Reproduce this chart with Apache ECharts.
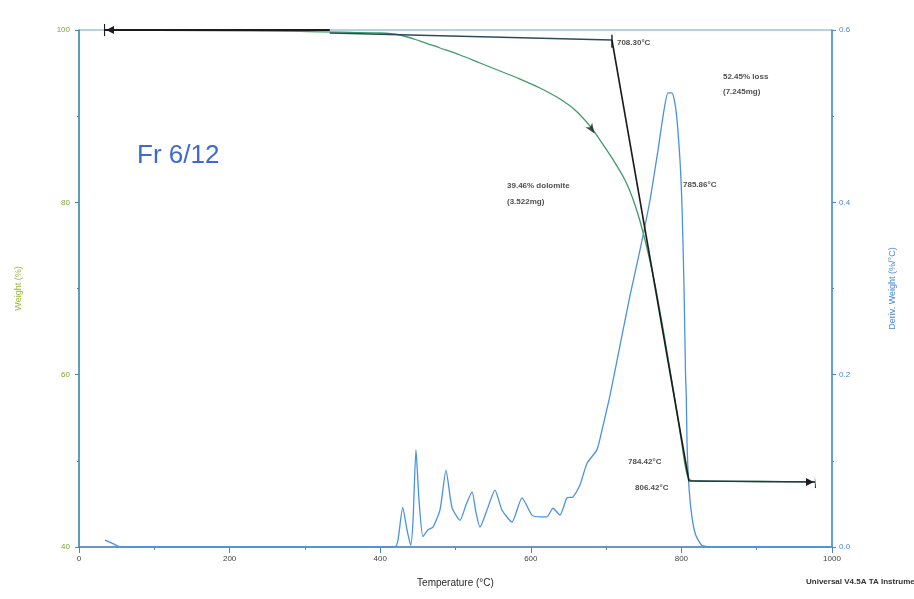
<!DOCTYPE html>
<html>
<head>
<meta charset="utf-8">
<title>Fr 6/12 TGA</title>
<script src="https://cdn.jsdelivr.net/npm/echarts@6/dist/echarts.min.js"></script>
<style>
  html, body { margin: 0; padding: 0; background: #ffffff; }
  #chart { width: 914px; height: 599px; }
</style>
</head>
<body>
<div id="chart"></div>
<script>
// Weight curve (%), temperature in °C
const tempW = [34.5, 160.7, 293.5, 399.7, 426.3, 452.9, 479.4, 506.0, 532.5, 559.1, 585.7, 612.2, 638.8, 658.7, 678.6, 691.9, 707.8, 725.1, 738.4, 751.7, 765.0, 778.2, 791.5, 800.8, 806.1, 811.4, 824.7, 904.4, 977.4];
const weightPct = [100.0, 99.94, 99.83, 99.65, 99.42, 98.72, 97.91, 97.10, 96.17, 95.24, 94.31, 93.27, 91.99, 90.72, 88.86, 87.23, 85.15, 82.59, 79.69, 75.63, 70.41, 64.02, 57.06, 51.84, 48.94, 47.78, 47.66, 47.60, 47.55];

// Derivative weight curve (%/°C)
const tempD = [34.5, 45.0, 55.0, 419.6, 423.6, 429.9, 435.6, 440.5, 443.6, 447.5, 451.5, 456.8, 463.5, 470.1, 479.4, 487.4, 495.3, 506.0, 514.0, 522.0, 527.0, 532.5, 541.8, 552.4, 561.7, 575.0, 588.3, 601.6, 612.2, 621.5, 629.5, 638.8, 648.0, 656.0, 665.3, 674.6, 687.9, 694.6, 705.2, 718.5, 731.8, 745.1, 758.4, 769.0, 776.9, 782.2, 787.5, 792.8, 798.1, 801.0, 803.5, 805.5, 806.5, 807.5, 810.0, 814.0, 819.0, 827.0, 838.0, 997.0];
const derivPct = [0.008, 0.004, 0.0, 0.0, 0.008, 0.046, 0.020, 0.002, 0.031, 0.113, 0.055, 0.012, 0.020, 0.023, 0.043, 0.089, 0.046, 0.031, 0.049, 0.064, 0.041, 0.023, 0.043, 0.066, 0.043, 0.029, 0.057, 0.037, 0.035, 0.035, 0.045, 0.037, 0.057, 0.058, 0.072, 0.097, 0.113, 0.136, 0.176, 0.234, 0.292, 0.345, 0.403, 0.461, 0.507, 0.527, 0.527, 0.507, 0.449, 0.390, 0.300, 0.200, 0.175, 0.120, 0.070, 0.035, 0.014, 0.002, 0.0, 0.0];

// Step analysis construction lines (temperature, weight %)
const stepStartT = [34.5, 333.0];
const stepStartW = [100.0, 100.0];
const baselineT = [333.0, 707.8];
const baselineW = [99.65, 98.84];
const cursorT = [707.8, 707.8];
const cursorW = [99.45, 97.95];
const tangentT = [707.8, 810.0];
const tangentW = [98.84, 47.66];
const plateauT = [810.0, 977.4];
const plateauW = [47.66, 47.55];

// Annotation texts anchored in data space (temperature, weight %)
const noteT = [714.4, 855.2, 855.2, 802.1, 568.4, 568.4, 729.1, 738.4];
const noteW = [98.49, 94.55, 92.80, 82.01, 81.90, 80.04, 49.87, 46.85];
const noteText = ['708.30°C', '52.45% loss', '(7.245mg)', '785.86°C', '39.46% dolomite', '(3.522mg)', '784.42°C', '806.42°C'];

// Axis ticks
const xTicks = [0, 200, 400, 600, 800, 1000];
const weightTicks = [40, 60, 80, 100];
const derivTicks = [0.0, 0.2, 0.4, 0.6];

const zip = (a, b) => a.map((v, i) => [v, b[i]]);

const FONT = '"Liberation Sans", Arial, sans-serif';
const INK = '#1c1c1c';

const startMarker = 'path://M0,0 L1,0 L1,12 L0,12 Z M2,6 L9,2 L9,10 Z';
const endMarker = 'path://M0,2 L7,6 L0,10 Z M8,0 L9,12 L8,12 Z';

const chart = echarts.init(document.getElementById('chart'), null, { renderer: 'canvas' });

function stepLine(xs, ys, extra) {
  return Object.assign({
    type: 'line',
    yAxisIndex: 0,
    data: zip(xs, ys),
    symbol: 'none',
    silent: true,
    z: 5,
    lineStyle: { color: INK, width: 1.4 }
  }, extra || {});
}

const option = {
  backgroundColor: '#ffffff',
  animation: false,
  textStyle: { fontFamily: FONT },
  grid: {
    left: 79, right: 82, top: 30, bottom: 52,
    show: true, borderColor: '#6aa2cc', borderWidth: 1, backgroundColor: 'transparent'
  },
  xAxis: {
    type: 'value',
    min: xTicks[0],
    max: xTicks[xTicks.length - 1],
    interval: xTicks[1] - xTicks[0],
    name: 'Temperature (°C)',
    nameLocation: 'middle',
    nameGap: 31,
    nameTextStyle: { color: '#2a2a2a', fontSize: 10, fontFamily: FONT },
    axisLine: { lineStyle: { color: '#4f86b0', width: 1.5 } },
    axisTick: { length: 6, lineStyle: { color: '#4f86b0' } },
    minorTick: { show: true, splitNumber: 2, length: 3, lineStyle: { color: '#4f86b0' } },
    axisLabel: { color: '#444', fontSize: 8, margin: 8, formatter: v => String(v) },
    splitLine: { show: false }
  },
  yAxis: [
    {
      type: 'value',
      position: 'left',
      min: weightTicks[0],
      max: weightTicks[weightTicks.length - 1],
      interval: weightTicks[1] - weightTicks[0],
      name: 'Weight (%)',
      nameLocation: 'middle',
      nameRotate: 90,
      nameGap: 56,
      nameTextStyle: { color: '#98b83a', fontSize: 9, fontFamily: FONT },
      axisLine: { show: true, lineStyle: { color: '#3f8ea6', width: 1.5 } },
      axisTick: { show: true, length: 4, lineStyle: { color: '#3f8ea6' } },
      minorTick: { show: true, splitNumber: 2, length: 2, lineStyle: { color: '#3f8ea6' } },
      axisLabel: { color: '#7fa03a', fontSize: 8, margin: 9 },
      splitLine: { show: false }
    },
    {
      type: 'value',
      position: 'right',
      min: derivTicks[0],
      max: derivTicks[derivTicks.length - 1],
      interval: 0.2,
      name: 'Deriv. Weight (%/°C)',
      nameLocation: 'middle',
      nameRotate: 90,
      nameGap: 56,
      nameTextStyle: { color: '#4a86d6', fontSize: 9, fontFamily: FONT },
      axisLine: { show: true, lineStyle: { color: '#4a8fd4', width: 1.5 } },
      axisTick: { show: true, length: 4, lineStyle: { color: '#4a8fd4' } },
      minorTick: { show: true, splitNumber: 2, length: 2, lineStyle: { color: '#4a8fd4' } },
      axisLabel: { color: '#4a86d6', fontSize: 8, margin: 7, formatter: v => v.toFixed(1) },
      splitLine: { show: false }
    }
  ],
  graphic: [
    {
      type: 'text',
      left: 137, top: 143,
      style: { text: 'Fr 6/12', fill: '#3c6ad2', font: '26px ' + FONT }
    },
    {
      type: 'text',
      left: 806, top: 578,
      style: { text: 'Universal V4.5A TA Instruments', fill: '#333', font: 'bold 8px ' + FONT }
    }
  ],
  series: [
    {
      name: 'Weight',
      type: 'line',
      yAxisIndex: 0,
      data: zip(tempW, weightPct),
      symbol: 'none',
      smooth: 0.3,
      z: 3,
      lineStyle: { color: '#3f9a6a', width: 1.3 }
    },
    {
      name: 'Deriv. Weight',
      type: 'line',
      yAxisIndex: 1,
      data: zip(tempD, derivPct),
      symbol: 'none',
      smooth: 0.2,
      z: 4,
      lineStyle: { color: '#4a92e0', width: 1.3 }
    },
    stepLine(stepStartT, stepStartW, {
      data: [
        { value: [stepStartT[0], stepStartW[0]], symbol: startMarker, symbolSize: [10, 12], symbolOffset: [4, 0] },
        { value: [stepStartT[1], stepStartW[1]], symbol: 'none' }
      ],
      showSymbol: true,
      itemStyle: { color: INK },
      lineStyle: { color: INK, width: 2 }
    }),
    stepLine(baselineT, baselineW, { lineStyle: { color: '#2c4a5c', width: 1.3 } }),
    stepLine(cursorT, cursorW, { lineStyle: { color: INK, width: 1.4 } }),
    stepLine(tangentT, tangentW, { lineStyle: { color: INK, width: 1.6 } }),
    stepLine(plateauT, plateauW, {
      data: [
        { value: [plateauT[0], plateauW[0]], symbol: 'none' },
        { value: [plateauT[1], plateauW[1]], symbol: endMarker, symbolSize: [10, 12], symbolOffset: [-4, 0] }
      ],
      showSymbol: true,
      itemStyle: { color: INK },
      lineStyle: { color: '#223844', width: 1.6 }
    }),
    {
      name: 'pointer',
      type: 'scatter',
      yAxisIndex: 0,
      silent: true,
      z: 6,
      data: [[684.5, 88.0]],
      symbol: 'arrow',
      symbolSize: [6, 10],
      symbolRotate: 214,
      itemStyle: { color: INK }
    },
    {
      name: 'notes',
      type: 'scatter',
      yAxisIndex: 0,
      silent: true,
      z: 7,
      symbolSize: 0,
      data: noteT.map((t, i) => ({ value: [t, noteW[i]], name: noteText[i] })),
      label: {
        show: true,
        position: 'right',
        distance: 0,
        formatter: p => p.name,
        color: '#222',
        fontSize: 8,
        fontWeight: 'bold',
        fontFamily: FONT
      }
    }
  ]
};

chart.setOption(option);
</script>
</body>
</html>
